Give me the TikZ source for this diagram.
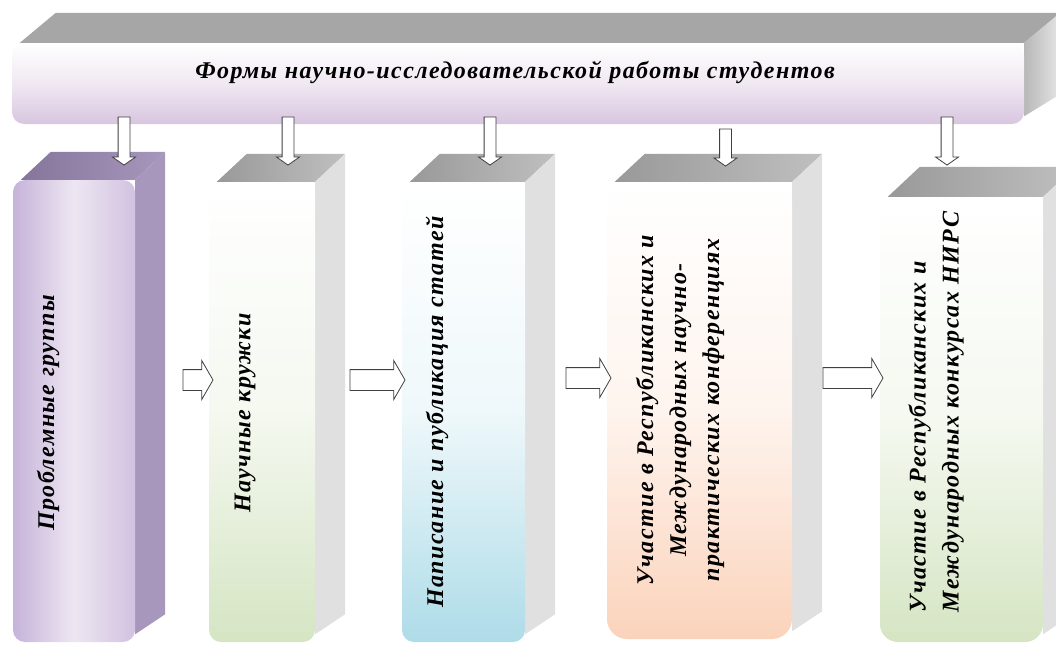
\documentclass[tikz,border=0pt]{standalone}
\usepackage{fontspec}
\setmainfont{Liberation Serif}
\newfontfamily\boxfont[LetterSpace=6]{Liberation Serif}
\usepackage{tikz}
\usetikzlibrary{shapes.arrows,backgrounds}
\definecolor{lilac}{HTML}{C6B3D9}
\definecolor{lilaclight}{HTML}{EDE6F2}
\definecolor{lilacside}{HTML}{A897BD}
\definecolor{lilactop}{HTML}{85759A}
\definecolor{bannerlow}{HTML}{D8C6DF}
\definecolor{greenlow}{HTML}{D5E5C3}
\definecolor{bluelow}{HTML}{AEDCE8}
\definecolor{peachlow}{HTML}{FBD3BB}
\newcommand\extrude[4]{
  \path[#2] ([xshift=8pt]#1.north west) -- ++#4 -- ([shift={#4}]#1.north east) -- (#1.north east) -- cycle;
  \path[#3] (#1.north east) -- ([shift={#4}]#1.north east) -- ([shift={#4}]#1.south east) -- ([yshift=8pt]#1.south east) -- cycle;
}

\begin{document}
\begin{tikzpicture}[x=1pt, y=1pt,
  face/.style = {rounded corners=12pt, inner sep=0pt},
  txt/.style = {font=\boxfont\fontsize{24}{33}\selectfont\bfseries\itshape},
  vtxt/.style = {txt, rotate=90},
  graytop/.style = {left color=black!40, right color=black!25},
  grayside/.style = {fill=black!12},
  darrow/.style = {single arrow, draw=black!75, fill=white, line width=0.8pt, rotate=-90, inner xsep=0pt, inner ysep=5.5pt, minimum width=0pt, single arrow head extend=5.5pt, single arrow tip angle=110},
  rarrow/.style = {single arrow, draw=black!75, fill=white, line width=0.8pt, inner xsep=0pt, inner ysep=10pt, minimum width=0pt, single arrow head extend=9pt, single arrow tip angle=120}]
  \useasboundingbox (0,0) rectangle (1056,-645);
	\node[face, minimum width=1012pt, minimum height=81pt, top color=white, bottom color=bannerlow, middle color=white!60!bannerlow] (forms) at (518,-83.5){};
	\node[txt] (formstxt) at (515,-72){Формы научно-исследовательской работы студентов};
	\node[face, minimum width=122pt, minimum height=462pt, left color=lilac, right color=lilac!80!white, middle color=lilaclight] (groups) at (74,-411){};
	\node[face, minimum width=106pt, minimum height=460pt, top color=white, bottom color=greenlow, middle color=white!75!greenlow] (circles) at (262,-412){};
	\node[face, minimum width=123pt, minimum height=460pt, top color=white, bottom color=bluelow, middle color=white!80!bluelow] (articles) at (463.5,-412){};
	\node[face, rounded corners=20pt, minimum width=185pt, minimum height=457pt, top color=white, bottom color=peachlow, middle color=white!75!peachlow] (confs) at (699.5,-410.5){};
	\node[face, rounded corners=18pt, minimum width=163pt, minimum height=445pt, top color=white, bottom color=greenlow, middle color=white!75!greenlow] (contests) at (961.5,-419.5){};
	\node[vtxt] (groupstxt) at (48,-413){Проблемные группы};
	\node[vtxt] (circlestxt) at (245,-413){Научные кружки};
	\node[vtxt] (articlestxt) at (437,-412){Написание и публикация статей};
	\node[vtxt, align=center] (confstxt) at (680,-410){Участие в Республиканских и\\Международных научно-\\практических конференциях};
	\node[vtxt, align=left] (conteststxt) at (936,-412){Участие в Республиканских и\\Международных конкурсах НИРС};
	\node[darrow, minimum height=48pt] (d1) at (124,-139){};
	\node[darrow, minimum height=48pt] (d2) at (288,-139){};
	\node[darrow, minimum height=48pt] (d3) at (490,-139){};
	\node[darrow, minimum height=37pt] (d4) at (725.5,-145.5){};
	\node[darrow, minimum height=48pt] (d5) at (947,-139){};
	\node[rarrow, minimum height=30pt] (r1) at (195,-380){};
	\node[rarrow, minimum height=55pt] (r2) at (374.5,-380){};
	\node[rarrow, minimum height=45pt] (r3) at (585.5,-378){};
	\node[rarrow, minimum height=60pt] (r4) at (850,-378){};
	\begin{scope}[on background layer]
	    \extrude{forms}{fill=black!35}{left color=black!28, right color=black!10}{(36,30)}
	    \extrude{groups}{left color=lilactop, right color=lilacside}{fill=lilacside}{(30,28)}
	    \extrude{circles}{graytop}{grayside}{(30,28)}
	    \extrude{articles}{graytop}{grayside}{(30,28)}
	    \extrude{confs}{graytop}{grayside}{(30,28)}
	    \extrude{contests}{graytop}{grayside}{(32,30)}
	\end{scope}
\end{tikzpicture}
\end{document}
